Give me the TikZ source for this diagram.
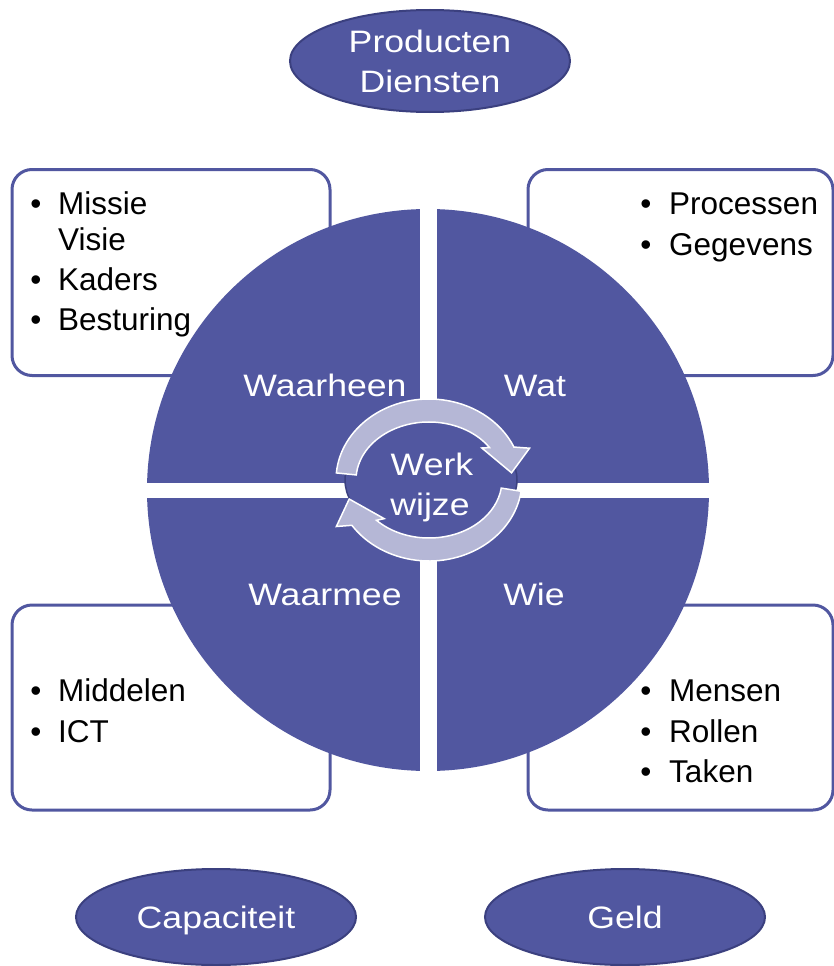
\documentclass[tikz,border=0pt]{standalone}
\usepackage{fontspec}
\setmainfont{Liberation Sans}
\newfontfamily\widefont[FakeStretch=1.15]{Liberation Sans}
\usetikzlibrary{calc,shapes.geometric}
\definecolor{qblue}{HTML}{5157A0}
\definecolor{qdark}{HTML}{3B407F}
\definecolor{qlight}{HTML}{B5B7D6}
\begin{document}
\begin{tikzpicture}[x=1pt,y=1pt,
  box/.style={draw=qblue,line width=3pt,fill=white,rounded corners=20pt,minimum width=318pt,minimum height=206pt,inner sep=0pt},
  oval/.style={ellipse,fill=qblue,draw=qdark,line width=2pt,minimum width=280pt,inner sep=0pt,text=white,align=center,font=\widefont\fontsize{31}{40}\selectfont},
  item/.style={anchor=base west,inner sep=0pt,font=\fontsize{31.5}{36}\selectfont},
  dot/.style={anchor=base,inner sep=0pt,font=\fontsize{31.5}{36}\selectfont},
  qlabel/.style={anchor=base,inner sep=0pt,text=white,font=\widefont\fontsize{31}{36}\selectfont},
  ringarrow/.style={fill=qlight,draw=white,line width=1.5pt,line join=miter}
]
\useasboundingbox (0,0) rectangle (834,-966);

% boxes
\node[box] (tl) at (171,-272.5) {};
\node[box,minimum width=305pt] (tr) at (680.5,-272.5) {};
\node[box,minimum height=205pt] (bl) at (171,-707.5) {};
\node[box,minimum width=305pt,minimum height=205pt] (br) at (680.5,-707.5) {};

% disc with cross gap
\node[circle,fill=qblue,minimum size=562pt,inner sep=0pt] (disc) at (428,-490) {};
\begin{scope}
  \clip (disc.center) circle (282);
  \fill[white] (419.5,-200) rectangle (436.5,-780);
  \fill[white] (140,-483) rectangle (720,-498);
\end{scope}

% hub
\node[ellipse,fill=qblue,draw=qdark,line width=1.5pt,minimum width=172pt,minimum height=116pt,inner sep=0pt] (hub) at (431,-480) {};
\coordinate (rc) at (429,-480);

% circular arrows
\draw[ringarrow] ($(rc)+(175:93 and 81)$) arc[start angle=175,end angle=24,x radius=93,y radius=81]
  -- ($(rc)+(20:107 and 93)$) -- ($(rc)+(6:83 and 69)$) -- ($(rc)+(38:67 and 52)$)
  -- ($(rc)+(34:73 and 58)$) arc[start angle=34,end angle=175,x radius=73,y radius=58] -- cycle;
\draw[ringarrow] ($(rc)+(-8:93 and 81)$) arc[start angle=-8,end angle=-146,x radius=93,y radius=81]
  -- ($(rc)+(210:107 and 93)$) -- ($(rc)+(196:83 and 69)$) -- ($(rc)+(228:67 and 52)$)
  -- ($(rc)+(224:73 and 58)$) arc[start angle=-136,end angle=-8,x radius=73,y radius=58] -- cycle;

% hub text
\node[qlabel] (werk) at (432,-475) {Werk};
\node[qlabel] (wijze) at (430,-515) {wijze};

% quadrant labels
\node[qlabel] (waarheen) at (325,-396) {Waarheen};
\node[qlabel] (wat) at (535,-396) {Wat};
\node[qlabel] (waarmee) at (325,-605) {Waarmee};
\node[qlabel] (wie) at (534,-605) {Wie};

% top-left items
\node[dot] (b1) at (36,-214) {•};
\node[item] (missie) at (58,-214) {Missie};
\node[item] (visie) at (58,-250) {Visie};
\node[dot] (b2) at (36,-290) {•};
\node[item] (kaders) at (58,-290) {Kaders};
\node[dot] (b3) at (36,-330) {•};
\node[item] (besturing) at (58,-330) {Besturing};

% top-right items
\node[dot] (b4) at (646,-214) {•};
\node[item] (processen) at (669,-214) {Processen};
\node[dot] (b5) at (646,-255) {•};
\node[item] (gegevens) at (669,-255) {Gegevens};

% bottom-left items
\node[dot] (b6) at (36,-701) {•};
\node[item] (middelen) at (58,-701) {Middelen};
\node[dot] (b7) at (36,-742) {•};
\node[item] (ict) at (58,-742) {ICT};

% bottom-right items
\node[dot] (b8) at (646,-701) {•};
\node[item] (mensen) at (669,-701) {Mensen};
\node[dot] (b9) at (646,-742) {•};
\node[item] (rollen) at (669,-742) {Rollen};
\node[dot] (b10) at (646,-782) {•};
\node[item] (taken) at (669,-782) {Taken};

% ovals
\node[oval,minimum height=102pt] (prod) at (430,-61) {Producten\\Diensten};
\node[oval,minimum height=96pt,text depth=0pt] (cap) at (216,-917) {Capaciteit};
\node[oval,minimum height=96pt,text depth=0pt] (geld) at (625,-917) {Geld};
\end{tikzpicture}
\end{document}
